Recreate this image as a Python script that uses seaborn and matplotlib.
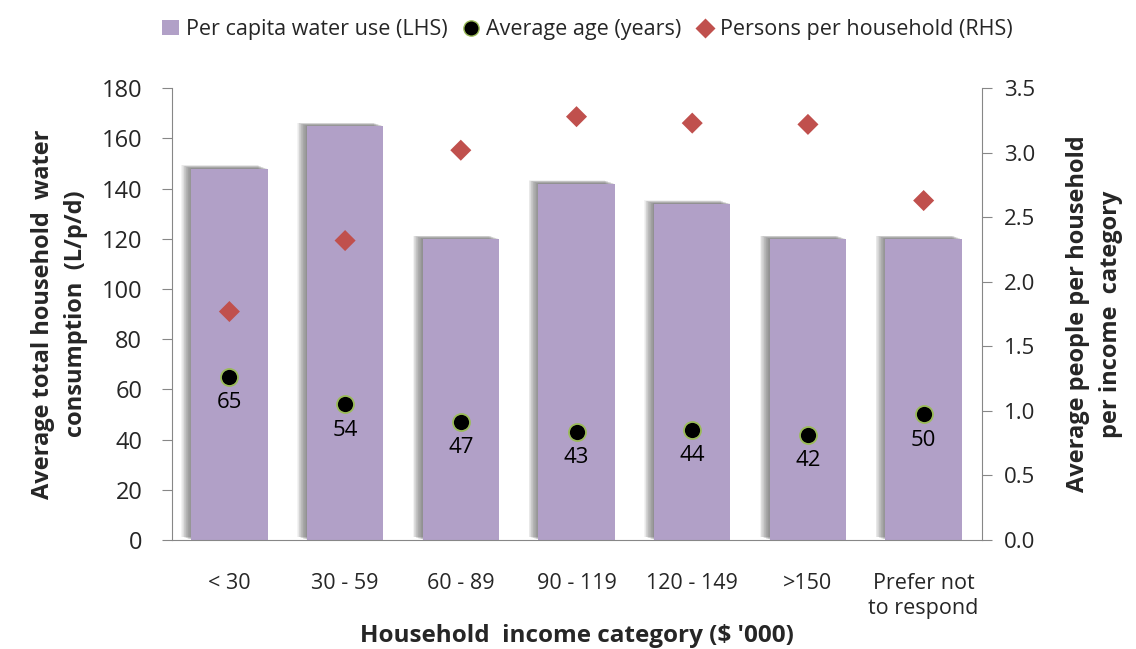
import pandas as pd
import seaborn as sns
import matplotlib.pyplot as plt
import matplotlib.patheffects as pe
from matplotlib.lines import Line2D
from matplotlib.patches import Patch

categories = ["< 30", "30 - 59", "60 - 89", "90 - 119", "120 - 149", ">150", "Prefer not\nto respond"]
water_use = [148, 165, 120, 142, 134, 120, 120]
avg_age = [65, 54, 47, 43, 44, 42, 50]
persons = [1.77, 2.32, 3.02, 3.28, 3.23, 3.22, 2.63]

sns.set_style("white")
plt.rcParams['font.family'] = ['Open Sans', 'DejaVu Sans']

df = pd.DataFrame({"cat": categories, "water": water_use, "age": avg_age, "persons": persons})

fig = plt.figure(figsize=(11.36, 6.49), dpi=100)
ax = fig.add_axes([0.151, 0.168, 0.713, 0.696])

bar_col = "#B1A0C7"
sns.barplot(data=df, x="cat", y="water", color=bar_col, width=0.66, saturation=1, linewidth=0, ax=ax)
# soft shadow on the left/top like the original
shadow = [pe.SimplePatchShadow(offset=(-k * 0.5, k * 0.17), shadow_rgbFace="#606060", alpha=0.075) for k in range(14, 0, -1)]
for p in ax.patches:
    p.set_path_effects(shadow + [pe.Normal()])

sns.scatterplot(data=df, x="cat", y="age", s=150, color="black", edgecolor="#9BBB59", linewidth=1.3, ax=ax, zorder=5)
for i, v in enumerate(avg_age):
    ax.text(i, v - 6, str(v), ha="center", va="top", fontsize=16, color="black", zorder=6)

ax2 = ax.twinx()
sns.scatterplot(data=df, x="cat", y="persons", s=115, marker="D", color="#C0504D", edgecolor="none", ax=ax2, zorder=5)

ax.set_ylim(0, 180)
ax.set_yticks(range(0, 181, 20))
ax2.set_ylim(0, 3.5)
ax2.set_yticks([i * 0.5 for i in range(8)])
ax2.set_yticklabels([f"{i * 0.5:.1f}" for i in range(8)])
ax.set_xlim(-0.5, 6.5)

grey = "#878787"
for a in (ax, ax2):
    a.spines["top"].set_visible(False)
    for s in ("left", "right", "bottom"):
        a.spines[s].set_color(grey)
ax.spines["right"].set_visible(False)
ax2.spines["left"].set_visible(False)
ax2.spines["bottom"].set_visible(False)

ax.set_xticks(range(7))
ax.set_xticklabels(categories, fontsize=15.5, linespacing=1.2)
ax.set_xticks([i + 0.5 for i in range(-1, 7)], minor=True)
ax.tick_params(axis="x", which="major", length=0, pad=24)
ax.tick_params(axis="x", which="minor", length=7, color=grey, direction="out")
ax.tick_params(axis="y", labelsize=17, length=7, color=grey, direction="out", left=True, pad=14)
ax2.tick_params(axis="y", labelsize=16, length=7, color=grey, direction="out", right=True, pad=9)

ax.set_xlabel("Household  income category ($ '000)", fontsize=17.5, fontweight="bold", labelpad=4)
ax.set_ylabel("Average total household  water\nconsumption  (L/p/d)", fontsize=17, fontweight="bold", labelpad=10, linespacing=1.5)
ax2.set_ylabel("Average people per household\nper income  category", fontsize=17, fontweight="bold", labelpad=22, linespacing=1.5)

handles = [
    Patch(facecolor=bar_col, edgecolor="none"),
    Line2D([], [], marker="o", linestyle="none", markersize=11, markerfacecolor="black", markeredgecolor="#9BBB59"),
    Line2D([], [], marker="D", linestyle="none", markersize=10, markerfacecolor="#C0504D", markeredgecolor="none"),
]
labels = ["Per capita water use (LHS)", "Average age (years)", "Persons per household (RHS)"]
fig.legend(handles, labels, loc="upper center", bbox_to_anchor=(0.517, 1.0), ncol=3, frameon=False,
           fontsize=15.5, handlelength=0.8, handletextpad=0.3, columnspacing=0.7)

fig.savefig("out.png", dpi=100)
